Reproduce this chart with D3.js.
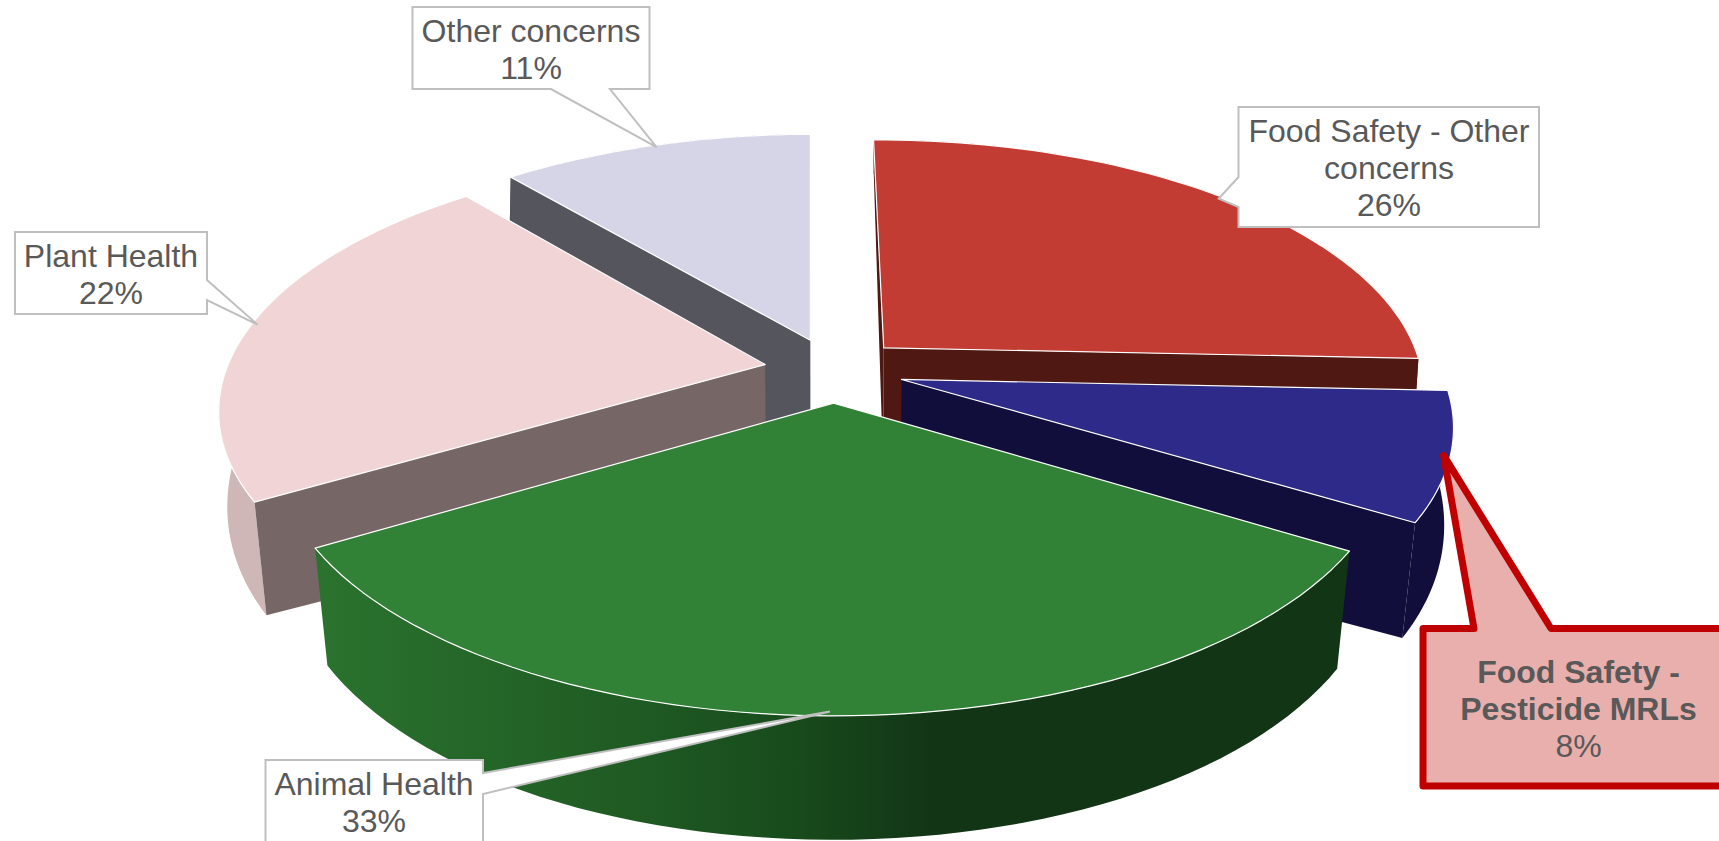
<!DOCTYPE html>
<html>
<head>
<meta charset="utf-8">
<style>
  html, body { margin: 0; padding: 0; background: #fff; overflow: hidden; }
  svg { display: block; font-family: "Liberation Sans", Arial, sans-serif; }
</style>
<script src="https://cdn.jsdelivr.net/npm/d3@7"></script>
</head>
<body>
<svg id="chart" width="1719" height="841"></svg>
<script>
const categories = ['Food Safety - Other concerns', 'Food Safety - Pesticide MRLs', 'Animal Health', 'Plant Health', 'Other concerns'];
const shares = [25.8, 8, 32.8, 22.4, 11];
const topColors = ['#c23c33', '#2e2a89', '#318237', '#f1d5d6', '#d5d5e7'];
const sideColors = ['#4f1813', '#110e3c', '#143a18', '#766666', '#54555d'];
const rimColors = ['#4f1813', '#110e3c', 'url(#greenRim)', '#cfb7b7', '#54555d'];
const labelLines = [['Food Safety - Other', 'concerns'], ['Food Safety -', 'Pesticide MRLs'], ['Animal Health'], ['Plant Health'], ['Other concerns']];

// callout boxes: x0, y0, x1, y1, which edge the pointer leaves from and where along it
const boxes = [
  { x0: 1238.5, y0: 107, x1: 1539, y1: 227, edge: 'left', a: 177, b: 207, cx: 1389, base: 142 },
  { x0: 1423, y0: 628.5, x1: 1740, y1: 786, edge: 'top', a: 1474, b: 1551, cx: 1578.5, base: 683, hot: true },
  { x0: 265.5, y0: 760, x1: 483, y1: 860, edge: 'right', a: 773, b: 794, cx: 374, base: 795 },
  { x0: 15, y0: 232, x1: 207, y1: 314, edge: 'right', a: 280, b: 300, cx: 111, base: 267 },
  { x0: 412.5, y0: 7, x1: 649.5, y1: 89, edge: 'bottom', a: 551, b: 610, cx: 531, base: 42 }
];

const explode = 0.13;
const tilt = 0.165;
const lowTilt = 0.147;
const depth = 0.1;
const coreDrop = 30;

const svg = d3.select('#chart');

const x = d3.scaleLinear().domain([-1, 1]).range([834 - 539, 834 + 539]);
const y = d3.scaleLinear().domain([-1, 1]).range([370 - 249, 370 + 249]);
const xLow = d3.scaleLinear().domain([-1, 1]).range([834 - 533, 834 + 533]);
const yLow = d3.scaleLinear().domain([-1, 1]).range([464 - 295, 464 + 295]);

// plane point -> screen, top face or bottom face
function project(u, v, low) {
  if (low) return [xLow(u / (1 - lowTilt * v)), yLow(v / (1 - depth * v))];
  const w = 1 - tilt * v;
  return [x(u / w), y(v / w)];
}

const rad = Math.PI / 180;
const pie = d3.pie().sort(null).startAngle(-0.4 * rad).endAngle(359.6 * rad);
const slices = pie(shares);

function apexOf(d) {
  const mid = (d.startAngle + d.endAngle) / 2;
  return [explode * Math.sin(mid), -explode * Math.cos(mid)];
}

function rimPoint(d, a) {
  const o = apexOf(d);
  return [o[0] + Math.sin(a), o[1] - Math.cos(a)];
}

function rimOf(d, low) {
  const steps = d3.range(0, 61).map(i => d.startAngle + (d.endAngle - d.startAngle) * i / 60);
  return steps.map(a => {
    const p = rimPoint(d, a);
    return project(p[0], p[1], low);
  });
}

const line = d3.line();

const defs = svg.append('defs');
const grad = defs.append('linearGradient').attr('id', 'greenRim')
  .attr('gradientUnits', 'userSpaceOnUse')
  .attr('x1', 325).attr('x2', 1336).attr('y1', 0).attr('y2', 0);
[[0, '#2a722e'], [0.31, '#1f5a23'], [0.47, '#184a1c'], [0.6, '#123516'], [1, '#123516']].forEach(s => {
  grad.append('stop').attr('offset', s[0]).attr('stop-color', s[1]);
});

// paint back to front
const order = [4, 0, 3, 1, 2];

order.forEach(i => {
  const d = slices[i];
  const o = apexOf(d);
  const g = svg.append('g').attr('class', 'slice');

  // outer wall
  const wall = rimOf(d, false).concat(rimOf(d, true).reverse());
  g.append('path').attr('d', line(wall) + 'Z').attr('fill', rimColors[i]);

  // radial walls, only those turned to the viewer
  const radial = a => {
    const r = rimPoint(d, a);
    const core = project(o[0], o[1], true);
    return [project(o[0], o[1]), project(r[0], r[1]), project(r[0], r[1], true), [core[0], core[1] + coreDrop]];
  };
  if (-Math.sin(d.startAngle) > 0) {
    g.append('path').attr('d', line(radial(d.startAngle)) + 'Z').attr('fill', sideColors[i]);
  }
  if (Math.sin(d.endAngle) > 0) {
    g.append('path').attr('d', line(radial(d.endAngle)) + 'Z').attr('fill', sideColors[i]);
  }

  // top face
  const top = [project(o[0], o[1])].concat(rimOf(d, false));
  g.append('path').attr('d', line(top) + 'Z')
    .attr('fill', topColors[i])
    .attr('stroke', '#fff').attr('stroke-width', 1.2).attr('stroke-linejoin', 'round');
});

// callouts, pointer tip sits on the rim at the middle of the slice
slices.forEach((d, i) => {
  const b = boxes[i];
  const r = rimPoint(d, (d.startAngle + d.endAngle) / 2);
  const tip = project(r[0] * 0.99, r[1] * 0.99);
  let pts;
  if (b.edge === 'left') {
    pts = [[b.x0, b.y0], [b.x1, b.y0], [b.x1, b.y1], [b.x0, b.y1], [b.x0, b.b], tip, [b.x0, b.a]];
  } else if (b.edge === 'right') {
    pts = [[b.x0, b.y0], [b.x1, b.y0], [b.x1, b.a], tip, [b.x1, b.b], [b.x1, b.y1], [b.x0, b.y1]];
  } else if (b.edge === 'top') {
    pts = [[b.x0, b.y0], [b.a, b.y0], tip, [b.b, b.y0], [b.x1, b.y0], [b.x1, b.y1], [b.x0, b.y1]];
  } else {
    pts = [[b.x0, b.y0], [b.x1, b.y0], [b.x1, b.y1], [b.b, b.y1], tip, [b.a, b.y1], [b.x0, b.y1]];
  }
  svg.append('path').attr('d', line(pts) + 'Z')
    .attr('fill', b.hot ? '#e8afad' : '#fff')
    .attr('stroke', b.hot ? '#c00000' : '#bfbfbf')
    .attr('stroke-width', b.hot ? 7 : 2)
    .attr('stroke-linejoin', b.hot ? 'round' : 'miter');

  const rows = labelLines[i].concat([Math.round(shares[i]) + '%']);
  rows.forEach((t, n) => {
    svg.append('text')
      .attr('x', b.cx).attr('y', b.base + n * 36.8)
      .attr('text-anchor', 'middle')
      .attr('font-size', 32)
      .attr('font-weight', b.hot && n < rows.length - 1 ? 'bold' : 'normal')
      .attr('fill', '#595959')
      .text(t);
  });
});
</script>
</body>
</html>
